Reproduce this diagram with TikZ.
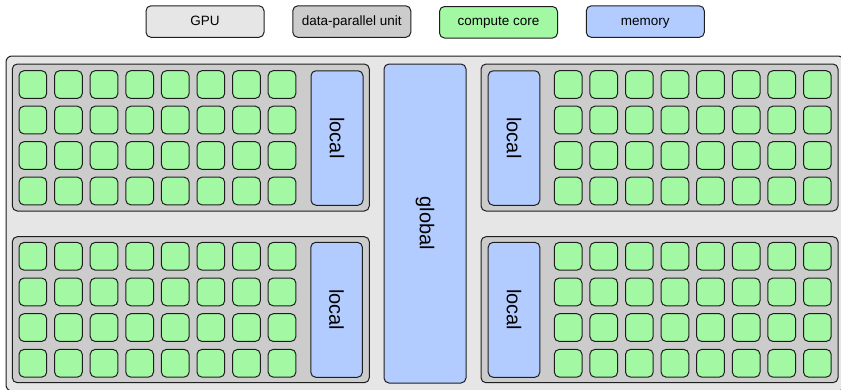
\documentclass[tikz,border=0pt]{standalone}
\usepackage{fontspec}
\setmainfont{Liberation Sans}
\definecolor{gpufill}{RGB}{230,230,230}
\definecolor{dpufill}{RGB}{204,204,204}
\definecolor{corefill}{RGB}{163,248,163}
\definecolor{memfill}{RGB}{179,204,255}
\definecolor{edge}{RGB}{30,30,30}
\begin{document}
\begin{tikzpicture}[x=1pt,y=-1pt,
  box/.style={draw=edge, line width=1pt, rounded corners=5pt, inner sep=0pt, outer sep=0pt},
  legend/.style={box, anchor=north west, minimum width=118pt, minimum height=31.5pt, text height=10pt, text depth=3pt, font=\fontsize{13.5}{16}\selectfont},
  dpu/.style={box, anchor=north west, fill=dpufill, minimum width=357pt, minimum height=147pt},
  core/.style={box, anchor=north west, fill=corefill, minimum width=27.7pt, minimum height=27.7pt},
  mem/.style={box, fill=memfill, rotate=-90, anchor=center, font=\fontsize{20}{24}\selectfont}
]
\useasboundingbox (0,0) rectangle (841,389);
\fill[white] (0,0) rectangle (841,389);
% legend
\node[legend, fill=gpufill] (lgpu) at (146,5.8) {GPU};
\node[legend, fill=dpufill] (ldpu) at (292.8,5.8) {data-parallel unit};
\node[legend, fill=corefill] (lcore) at (439.5,6.5) {compute core};
\node[legend, fill=memfill] (lmem) at (586.3,5.8) {memory};
% GPU
\node[box, anchor=north west, fill=gpufill, rounded corners=6pt, line width=1pt, minimum width=838pt, minimum height=335pt] (gpu) at (6,56) {};
% data-parallel units
\node[dpu] (tl) at (12.3,64) {};
\node[dpu, minimum height=146pt] (bl) at (12.3,236.7) {};
\node[dpu] (tr) at (481,64) {};
\node[dpu, minimum height=146pt] (br) at (481,236.7) {};
% global memory
\node[mem, minimum width=319pt, minimum height=82pt] (global) at (425,223.5) {global};
% local memories
\node[mem, minimum width=134.5pt, minimum height=52pt] (ltl) at (337,138) {local};
\node[mem, minimum width=135pt, minimum height=51.6pt] (lbl) at (336.6,309.8) {local};
\node[mem, minimum width=134.5pt, minimum height=51.6pt] (ltr) at (514,138) {local};
\node[mem, minimum width=135pt, minimum height=51.6pt] (lbr) at (514,309.8) {local};
% compute cores
\foreach \r in {0,...,3} {
  \foreach \c in {0,...,7} {
    \node[core] (tl-\r-\c) at ({19+35.6*\c},{70.7+35.5*\r}) {};
    \node[core] (bl-\r-\c) at ({19+35.6*\c},{242.4+35.67*\r}) {};
    \node[core] (tr-\r-\c) at ({554.3+35.6*\c},{70.7+35.5*\r}) {};
    \node[core] (br-\r-\c) at ({554.3+35.6*\c},{242.4+35.67*\r}) {};
  }
}
\end{tikzpicture}
\end{document}
